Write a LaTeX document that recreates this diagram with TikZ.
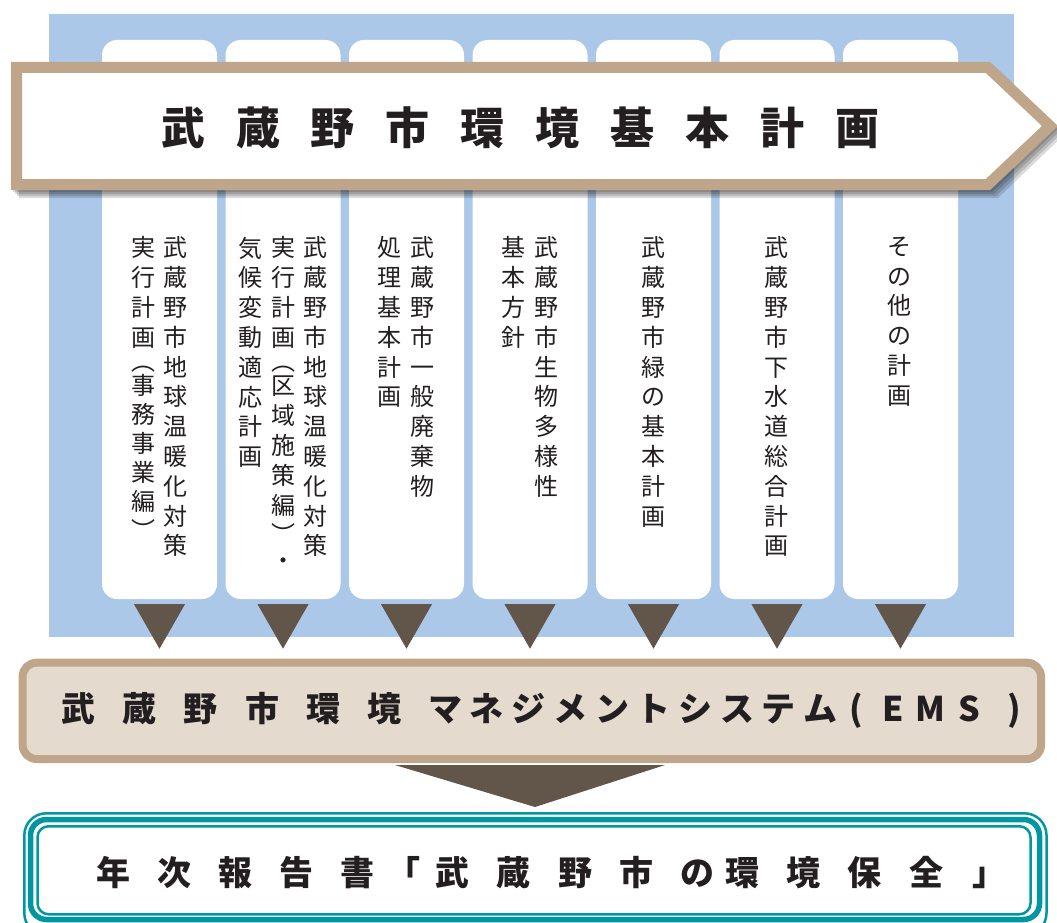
\documentclass[tikz,border=0pt]{standalone}
\usepackage{fontspec}
\newfontfamily\jp{Noto Sans CJK JP}
\usetikzlibrary{calc}
\definecolor{bgblue}{HTML}{ACC8E8}
\definecolor{tanc}{HTML}{BFA68B}
\definecolor{beigec}{HTML}{E4DACE}
\definecolor{darkbrown}{HTML}{62554A}
\definecolor{tealc}{HTML}{0097A2}
\definecolor{inkc}{HTML}{231F20}
\newcommand\tgap{\hspace{30.9pt}}
\newcommand\kgap{\hspace{27.3pt}}
\newcommand\ngap{\hspace{7.7pt}}
\newcommand\rgap{\hspace{27pt}}
\newcommand\cbox[1]{\makebox[34pt][c]{#1}}
\tikzset{
  colbox/.style={fill=white, rounded corners=15pt, minimum width=115pt, minimum height=559pt, inner sep=0pt},
  coltext/.style={font=\jp\fontsize{24}{29.8}\selectfont, text=inkc, align=center, anchor=north, inner sep=0pt},
  tri/.style={fill=darkbrown},
  bannerline/.style={draw=tanc, line width=11pt, fill=white, miter limit=10},
  emsbox/.style={draw=tanc, line width=8pt, fill=beigec, rounded corners=14pt, minimum width=1018.4pt, minimum height=96.3pt, inner sep=0pt},
  boldtext/.style={font=\jp\bfseries\fontsize{34}{40}\selectfont, text=inkc, anchor=west, inner sep=0pt},
}
\begin{document}
\begin{tikzpicture}[x=1pt,y=-1pt]
\useasboundingbox (0,0) rectangle (1057,923);
% blue background
\fill[bgblue] (49,14) rectangle (1014,637);
% columns
\foreach \i in {1,...,7}
  \node[colbox] (col\i) at ({159.5+123.5*(\i-1)},319.5) {};
% arrows below columns
\foreach \i in {1,...,7}
  \fill[tri] ($(col\i.south)+(-25.5,5)$) -- ++(51,0) -- ++(-25.5,44.5) -- cycle;
% banner shadow
\foreach \d in {2,4,6,8}
  \fill[black, opacity=0.14, shift={(\d,\d)}] (11,62) -- (990,62) -- (1057,126) -- (990,190) -- (11,190) -- cycle;
% banner
\path[bannerline] (16.5,67.5) -- (988,67.5) -- (1050,126) -- (988,184.5) -- (16.5,184.5) -- cycle;
\node[font=\jp\bfseries\fontsize{44}{50}\selectfont, text=inkc, anchor=west, inner sep=0pt] (title) at (161,128)
  {武\tgap 蔵\tgap 野\tgap 市\tgap 環\tgap 境\tgap 基\tgap 本\tgap 計\tgap 画};
% column texts
\node[coltext] (t1a) at (175,236.6) {武\\蔵\\野\\市\\地\\球\\温\\暖\\化\\対\\策};
\node[coltext] (t1b) at (143,236.6) {実\\行\\計\\画\\[-5.5pt]︵\\[-5.5pt]事\\[-1pt]務\\[-1pt]事\\[-1pt]業\\[-1pt]編\\︶};
\node[coltext] (t2a) at (315,236.6) {武\\蔵\\野\\市\\地\\球\\温\\暖\\化\\対\\策};
\node[coltext] (t2b) at (283,236.6) {実\\行\\計\\画\\[-5.5pt]︵\\[-5.5pt]区\\域\\施\\策\\編\\︶\\[-4pt]・};
\node[coltext] (t2c) at (250,236.6) {気\\候\\変\\動\\適\\応\\計\\画};
\node[coltext] (t3a) at (422,236.6) {武\\蔵\\野\\市\\一\\般\\廃\\棄\\物};
\node[coltext] (t3b) at (389,236.6) {処\\理\\基\\本\\計\\画};
\node[coltext] (t4a) at (546,236.6) {武\\蔵\\野\\市\\生\\物\\多\\様\\性};
\node[coltext] (t4b) at (513,236.6) {基\\本\\方\\針};
\node[coltext] (t5) at (653,236.6) {武\\蔵\\野\\市\\緑\\の\\基\\本\\計\\画};
\node[coltext] (t6) at (776,236.6) {武\\蔵\\野\\市\\下\\水\\道\\総\\合\\計\\画};
\node[coltext] (t7) at (899,236.6) {そ\\の\\他\\の\\計\\画};
% EMS box
\node[emsbox] (ems) at (531.8,710.85) {};
\node[boldtext] (emstext) at (61,710.5)
  {武\kgap 蔵\kgap 野\kgap 市\kgap 環\kgap 境\hspace{26.5pt}マ\ngap ネ\ngap ジ\ngap メ\ngap ン\ngap ト\ngap シ\ngap ス\ngap テ\ngap ム\hspace{2pt}\cbox{(}\hspace{3pt}\cbox{E}\hspace{3pt}\cbox{M}\hspace{4.5pt}\cbox{S}\hspace{11.5pt}\cbox{)}};
% big arrow
\coordinate (bigtip) at (535,807);
\fill[tri] (395,765) -- (665,765) -- (bigtip) -- cycle;
% report box
\draw[tealc, line width=2.5pt, rounded corners=22pt] (24.3,813.3) rectangle (1046.5,935);
\draw[tealc, line width=5.5pt, rounded corners=16pt] (30.5,819.5) rectangle (1039.5,919.5);
\node[draw=tealc, line width=2.5pt, rounded corners=11pt, minimum width=993pt, minimum height=88pt, inner sep=0pt] (report) at (534,870.25) {};
\node[boldtext] (reporttext) at (96.5,873)
  {年\rgap 次\rgap 報\rgap 告\rgap 書\hspace{11.5pt}「\hspace{15.5pt}武\rgap 蔵\hspace{27.5pt}野\hspace{27.5pt}市\hspace{26.5pt}の\hspace{11.5pt}環\rgap 境\rgap 保\hspace{28pt}全\hspace{29pt}」};
\end{tikzpicture}
\end{document}
